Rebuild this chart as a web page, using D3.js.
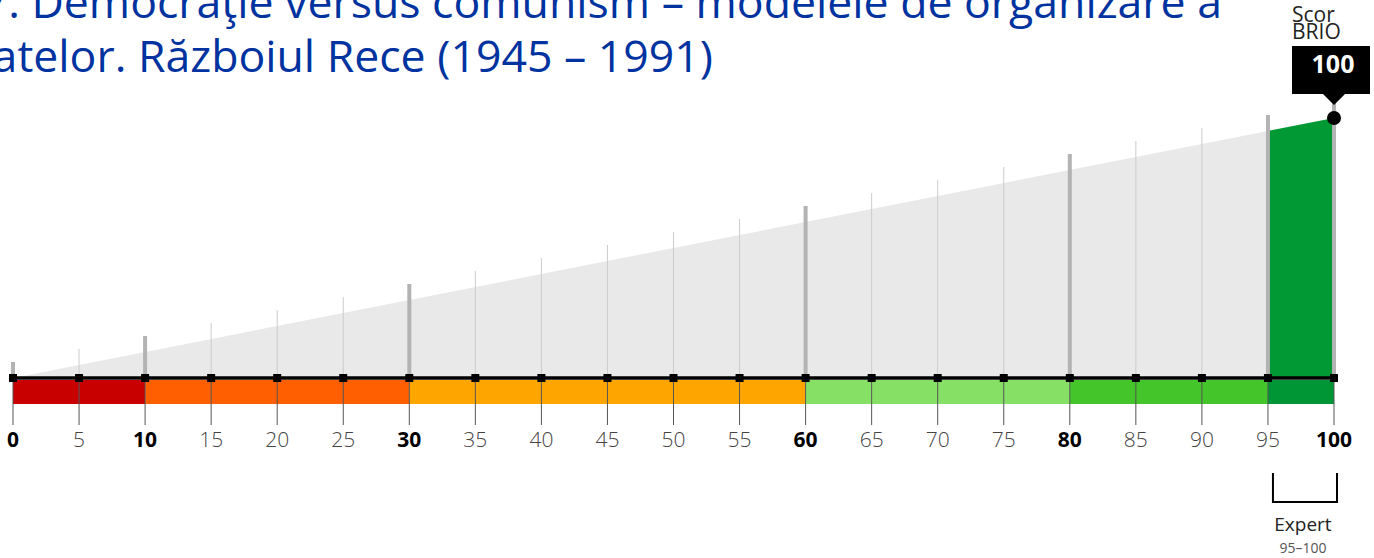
<!DOCTYPE html>
<html>
<head>
<meta charset="utf-8">
<script src="https://cdn.jsdelivr.net/npm/d3@7"></script>
<style>
  body { margin: 0; background: #fff; }
  svg { display: block; font-family: "Open Sans", "Noto Sans", sans-serif; }
</style>
</head>
<body>
<svg></svg>
<script>
// chart values
var titleLines = ["7. Democraţie versus comunism – modelele de organizare a",
                  "statelor. Războiul Rece (1945 – 1991)"];
var ticks = [0, 5, 10, 15, 20, 25, 30, 35, 40, 45, 50, 55, 60, 65, 70, 75, 80, 85, 90, 95, 100];
var boldTicks = [0, 10, 30, 60, 80, 100];
var thickTicks = [0, 10, 30, 60, 80, 95, 100];
var bandStart = [0, 10, 30, 60, 80, 95];
var bandEnd = [10, 30, 60, 80, 95, 100];
var bandColors = ["#c80000", "#ff5f00", "#ffa500", "#85e065", "#44c62a", "#009636"];
var score = 100;
var levelName = "Expert";
var levelRange = [95, 100];
var scoreLabel = ["Scor", "BRIO"];

// set the dimensions
var width = 1374, height = 558;
var axisY = 378;

var svg = d3.select("svg")
    .attr("width", width)
    .attr("height", height);

// scales
var xScale = d3.scaleLinear().domain([0, 100]).range([13, 1334]);
var yScale = d3.scaleLinear().domain([0, 100]).range([axisY, 118]);

// grey wedge
var area = d3.area()
    .x(function(d) { return xScale(d); })
    .y0(axisY)
    .y1(function(d) { return yScale(d); });

svg.append("path")
    .datum([0, 100])
    .attr("fill", "#e9e9e9")
    .attr("d", area);

// score wedge in the level colour
svg.append("path")
    .datum([levelRange[0], score])
    .attr("fill", "#009933")
    .attr("d", area);

// vertical guide lines above the axis
svg.append("g").selectAll("line")
    .data(ticks)
  .enter().append("line")
    .attr("x1", function(d) { return xScale(d); })
    .attr("x2", function(d) { return xScale(d); })
    .attr("y1", axisY)
    .attr("y2", function(d) { return yScale(d) - 16; })
    .style("stroke", function(d) { return thickTicks.indexOf(d) >= 0 ? "#b3b3b3" : "#cccccc"; })
    .style("stroke-width", function(d) { return thickTicks.indexOf(d) >= 0 ? 4 : 1; });

// colour bands
svg.append("g").selectAll("rect")
    .data(bandStart)
  .enter().append("rect")
    .attr("x", function(d) { return xScale(d); })
    .attr("width", function(d, i) { return xScale(bandEnd[i]) - xScale(d); })
    .attr("y", axisY + 2)
    .attr("height", 24)
    .attr("fill", function(d, i) { return bandColors[i]; });

// tick lines below
svg.append("g").selectAll("line")
    .data(ticks)
  .enter().append("line")
    .attr("x1", function(d) { return xScale(d); })
    .attr("x2", function(d) { return xScale(d); })
    .attr("y1", axisY)
    .attr("y2", 425)
    .style("stroke", "#555")
    .style("stroke-width", 1);

// axis line
svg.append("line")
    .attr("x1", xScale(0) - 3)
    .attr("x2", xScale(100) + 4)
    .attr("y1", axisY)
    .attr("y2", axisY)
    .style("stroke", "#000")
    .style("stroke-width", 3.5);

// square markers
svg.append("g").selectAll("rect")
    .data(ticks)
  .enter().append("rect")
    .attr("x", function(d) { return xScale(d) - 4; })
    .attr("y", axisY - 4)
    .attr("width", 8)
    .attr("height", 8)
    .attr("fill", "#000");

// tick labels
svg.append("g").selectAll("text")
    .data(ticks)
  .enter().append("text")
    .attr("x", function(d) { return xScale(d); })
    .attr("y", 447)
    .attr("text-anchor", "middle")
    .style("font-size", "21px")
    .style("font-weight", function(d) { return boldTicks.indexOf(d) >= 0 ? 700 : 300; })
    .style("fill", function(d) { return boldTicks.indexOf(d) >= 0 ? "#000" : "#444"; })
    .text(function(d) { return d; });

// score dot and callout
var sx = xScale(score), sy = yScale(score);

svg.append("circle")
    .attr("cx", sx)
    .attr("cy", sy)
    .attr("r", 7)
    .attr("fill", "#000");

svg.append("rect")
    .attr("x", sx - 42)
    .attr("y", 46)
    .attr("width", 78)
    .attr("height", 48)
    .attr("fill", "#000");

svg.append("path")
    .attr("d", "M" + (sx - 12) + ",93 L" + (sx + 12) + ",93 L" + sx + ",105 Z")
    .attr("fill", "#000");

svg.append("text")
    .attr("x", sx - 1)
    .attr("y", 73)
    .attr("text-anchor", "middle")
    .style("font-size", "25px")
    .style("font-weight", 700)
    .style("fill", "#fff")
    .text(score);

svg.append("g").selectAll("text")
    .data(scoreLabel)
  .enter().append("text")
    .attr("x", sx - 42)
    .attr("y", function(d, i) { return 22 + i * 17; })
    .style("font-size", "21px")
    .style("fill", "#222")
    .text(function(d) { return d; });

// level bracket
var bx0 = xScale(levelRange[0]) + 5, bx1 = xScale(levelRange[1]) + 3;
svg.append("path")
    .attr("d", "M" + bx0 + ",473 V502 H" + bx1 + " V473")
    .attr("fill", "none")
    .style("stroke", "#000")
    .style("stroke-width", 2);

svg.append("text")
    .attr("x", (bx0 + bx1) / 2 - 2)
    .attr("y", 531)
    .attr("text-anchor", "middle")
    .style("font-size", "19px")
    .style("fill", "#222")
    .text(levelName);

svg.append("text")
    .attr("x", (bx0 + bx1) / 2 - 2)
    .attr("y", 553)
    .attr("text-anchor", "middle")
    .style("font-size", "14px")
    .style("fill", "#555")
    .text(levelRange[0] + "–" + levelRange[1]);

// title, cropped at the top left like the original
svg.append("g").selectAll("text")
    .data(titleLines)
  .enter().append("text")
    .attr("x", function(d, i) { return i === 0 ? 1222 : 713; })
    .attr("y", function(d, i) { return 18 + i * 54; })
    .attr("text-anchor", "end")
    .style("font-size", "44.6px")
    .style("fill", "#0033a0")
    .text(function(d) { return d; });
</script>
</body>
</html>
